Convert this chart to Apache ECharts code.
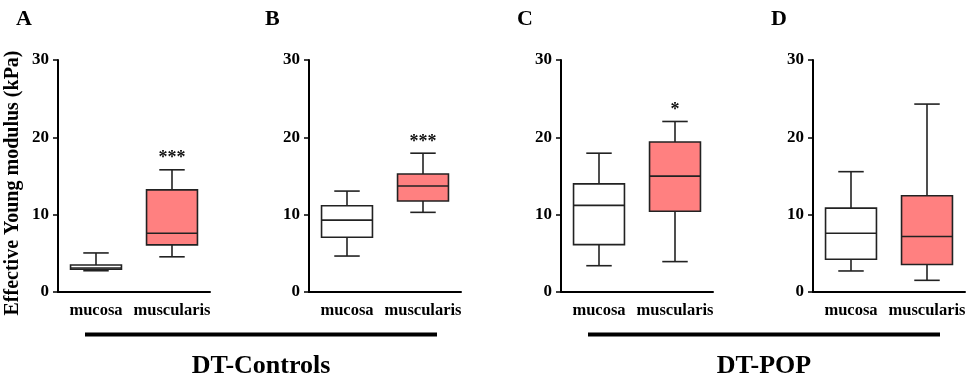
<!DOCTYPE html>
<html><head><meta charset="utf-8">
<script src="https://cdn.jsdelivr.net/npm/echarts@6/dist/echarts.min.js"></script>
<style>html,body{margin:0;padding:0;background:#fff}#c{width:980px;height:383px}</style>
</head><body><div id="c"></div>
<script>
// Data (box = [min, Q1, median, Q3, max])
const categories = ['mucosa', 'muscularis'];
const panelLabels = ['A', 'B', 'C', 'D'];
const aMucosa = [2.75, 2.95, 3.1, 3.5, 5.05];
const aMuscularis = [4.55, 6.1, 7.6, 13.2, 15.8];
const bMucosa = [4.65, 7.08, 9.3, 11.15, 13.05];
const bMuscularis = [10.3, 11.77, 13.7, 15.25, 17.95];
const cMucosa = [3.4, 6.13, 11.2, 13.98, 17.95];
const cMuscularis = [3.93, 10.44, 14.98, 19.4, 22.05];
const dMucosa = [2.72, 4.24, 7.6, 10.85, 15.56];
const dMuscularis = [1.51, 3.55, 7.18, 12.45, 24.3];
const significance = [['', '***'], ['', '***'], ['', '*'], ['', '']];
const yTickValues = [0, 10, 20, 30];
const groupNames = ['DT-Controls', 'DT-POP'];
const yTitle = 'Effective Young modulus (kPa)';

const panels = [[aMucosa, aMuscularis], [bMucosa, bMuscularis], [cMucosa, cMuscularis], [dMucosa, dMuscularis]];
const fillColors = ['#ffffff', '#ff8080'];
const FONT = '"Liberation Serif","Times New Roman",serif';
const gridLefts = [58, 309, 561, 813];
const GW = 152, GTOP = 60, GBOTTOM = 91;

function makeRender(pi) {
  return function (params, api) {
    const c = api.value(0);
    const pts = [1, 2, 3, 4, 5].map(i => api.coord([c, api.value(i)]));
    const cx = pts[0][0];
    const y = pts.map(p => p[1]);
    const bw = api.size([1, 0])[0] * 0.67;
    const cap = bw / 2;
    const st = { stroke: '#222', lineWidth: 1.6, fill: null };
    const children = [
      { type: 'line', shape: { x1: cx, y1: y[3], x2: cx, y2: y[4] }, style: st },
      { type: 'line', shape: { x1: cx, y1: y[1], x2: cx, y2: y[0] }, style: st },
      { type: 'line', shape: { x1: cx - cap / 2, y1: y[4], x2: cx + cap / 2, y2: y[4] }, style: st },
      { type: 'line', shape: { x1: cx - cap / 2, y1: y[0], x2: cx + cap / 2, y2: y[0] }, style: st },
      { type: 'rect', shape: { x: cx - bw / 2, y: y[3], width: bw, height: y[1] - y[3] },
        style: { stroke: '#222', lineWidth: 1.6, fill: fillColors[c] } },
      { type: 'line', shape: { x1: cx - bw / 2, y1: y[2], x2: cx + bw / 2, y2: y[2] }, style: st }
    ];
    const sig = significance[pi][c];
    if (sig) {
      children.push({ type: 'text', x: cx, y: y[4] - 2,
        style: { text: sig, fontFamily: FONT, fontWeight: 'bold', fontSize: 18, fill: '#111',
          align: 'center', verticalAlign: 'bottom' } });
    }
    return { type: 'group', children };
  };
}

const grid = [], xAxis = [], yAxis = [], series = [];
panels.forEach((p, i) => {
  grid.push({ left: gridLefts[i], width: GW, top: GTOP, bottom: GBOTTOM });
  xAxis.push({ type: 'category', gridIndex: i, data: categories,
    axisLine: { lineStyle: { color: '#000', width: 2 } },
    axisTick: { alignWithLabel: true, length: 5, lineStyle: { color: '#000', width: 1.5 } },
    axisLabel: { interval: 0, color: '#000', fontFamily: FONT, fontWeight: 'bold', fontSize: 16.5, margin: 10 } });
  yAxis.push({ type: 'value', gridIndex: i, min: yTickValues[0], max: yTickValues[yTickValues.length - 1], interval: 10,
    axisLine: { show: true, lineStyle: { color: '#000', width: 2 } },
    axisTick: { show: true, length: 5, lineStyle: { color: '#000', width: 1.5 } },
    splitLine: { show: false },
    axisLabel: { color: '#000', fontFamily: FONT, fontWeight: 'bold', fontSize: 17, margin: 9 } });
  series.push({ type: 'custom', xAxisIndex: i, yAxisIndex: i, renderItem: makeRender(i),
    encode: { x: 0, y: [1, 2, 3, 4, 5] },
    data: p.map((b, k) => [k].concat(b)) });
});

const letterX = [16, 265, 517, 771];
const graphic = [];
panelLabels.forEach((l, i) => graphic.push({ type: 'text', left: letterX[i], top: 8,
  style: { text: l, fontFamily: FONT, fontWeight: 'bold', fontSize: 22, fill: '#000' } }));
graphic.push({ type: 'text', x: 13, y: 183, rotation: Math.PI / 2,
  style: { text: yTitle, fontFamily: FONT, fontWeight: 'bold', fontSize: 20, fill: '#000', align: 'center', verticalAlign: 'middle' } });
const groupLines = [[85, 437], [588, 940]];
groupLines.forEach((g, i) => {
  graphic.push({ type: 'line', shape: { x1: g[0], y1: 334.5, x2: g[1], y2: 334.5 }, style: { stroke: '#000', lineWidth: 4 } });
  graphic.push({ type: 'text', x: (g[0] + g[1]) / 2, y: 366,
    style: { text: groupNames[i], fontFamily: FONT, fontWeight: 'bold', fontSize: 26, fill: '#000', align: 'center', verticalAlign: 'middle' } });
});

const chart = echarts.init(document.getElementById('c'), null, { renderer: 'canvas' });
chart.setOption({ animation: false, backgroundColor: '#fff', grid, xAxis, yAxis, series, graphic });
</script></body></html>
